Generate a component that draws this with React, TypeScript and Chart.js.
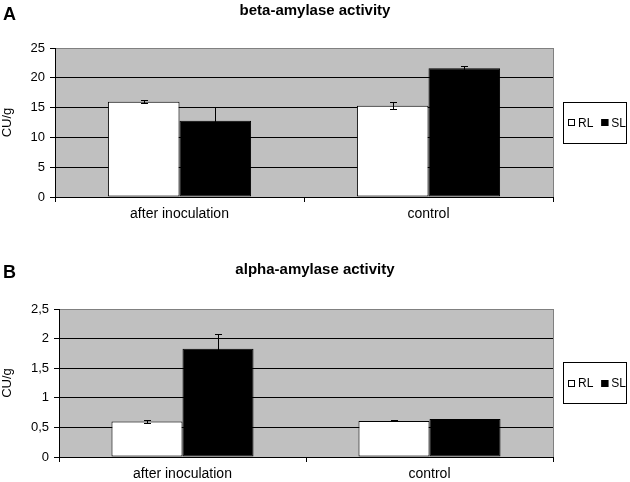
import React, { useEffect, useRef } from 'react';
import { Chart, registerables } from 'chart.js';

Chart.register(...registerables);

const FONT = '"Liberation Sans", Arial, Helvetica, sans-serif';

// ---- data ----
const categories = ['after inoculation', 'control'];
const seriesNames = ['RL', 'SL'];

const betaRL = [16.0, 15.3];
const betaRLErr = [0.2, 0.6];
const betaSL = [12.8, 21.6];
const betaSLErr = [2.3, 0.4];
const betaTickValues = [0, 5, 10, 15, 20, 25];
const betaTickLabels = ['0', '5', '10', '15', '20', '25'];

const alphaRL = [0.6, 0.61];
const alphaRLErr = [0.03, 0.01];
const alphaSL = [1.83, 0.64];
const alphaSLErr = [0.25, 0];
const alphaTickValues = [0, 0.5, 1, 1.5, 2, 2.5];
const alphaTickLabels = ['0', '0,5', '1', '1,5', '2', '2,5'];

type PanelProps = {
  letter: string;
  title: string;
  rl: number[];
  rlErr: number[];
  sl: number[];
  slErr: number[];
  tickValues: number[];
  tickLabels: string[];
  top: number;
  yWidth: number;
  xHeight: number;
  letterBaseline: number;
  titleBaseline: number;
};

function Panel(p: PanelProps) {
  const ref = useRef<HTMLCanvasElement | null>(null);
  useEffect(() => {
    const canvas = ref.current;
    if (!canvas) return;
    const errs = [p.rlErr, p.slErr];
    const yMax = p.tickValues[p.tickValues.length - 1];
    const decor = {
      id: 'decor',
      beforeDraw(chart: any) {
        const { ctx, chartArea: a } = chart;
        ctx.save();
        ctx.fillStyle = '#c0c0c0';
        ctx.fillRect(a.left, a.top, a.right - a.left, a.bottom - a.top);
        ctx.restore();
      },
      afterDatasetsDraw(chart: any) {
        const { ctx } = chart;
        const ys = chart.scales.y;
        ctx.save();
        ctx.strokeStyle = '#000';
        ctx.lineWidth = 1;
        chart.data.datasets.forEach((ds: any, i: number) => {
          const meta = chart.getDatasetMeta(i);
          meta.data.forEach((bar: any, j: number) => {
            const v = ds.data[j];
            const e = errs[i][j];
            if (!e) return;
            const x = Math.round(bar.x) + 0.5;
            const yT = Math.round(ys.getPixelForValue(v + e)) + 0.5;
            const yB = Math.round(ys.getPixelForValue(v - e)) + 0.5;
            ctx.beginPath();
            ctx.moveTo(x, yT);
            ctx.lineTo(x, yB);
            ctx.moveTo(x - 3.5, yT);
            ctx.lineTo(x + 3.5, yT);
            ctx.moveTo(x - 3.5, yB);
            ctx.lineTo(x + 3.5, yB);
            ctx.stroke();
          });
        });
        ctx.restore();
      },
      afterDraw(chart: any) {
        const { ctx, chartArea: a } = chart;
        ctx.save();
        // right border of plot area
        ctx.strokeStyle = '#808080';
        ctx.lineWidth = 1;
        ctx.beginPath();
        ctx.moveTo(Math.round(a.right) + 0.5, a.top);
        ctx.lineTo(Math.round(a.right) + 0.5, a.bottom);
        ctx.stroke();
        // panel letter
        ctx.fillStyle = '#000';
        ctx.font = 'bold 18px ' + FONT;
        ctx.textAlign = 'left';
        ctx.textBaseline = 'alphabetic';
        ctx.fillText(p.letter, 3, p.letterBaseline);
        // title
        ctx.font = 'bold 15px ' + FONT;
        ctx.textAlign = 'center';
        ctx.fillText(p.title, chart.width / 2, p.titleBaseline);
        // legend
        const bw = 64, bh = 42;
        const bx = Math.round(a.right) + 10;
        const cy = (a.top + a.bottom) / 2;
        const by = Math.round(cy - bh / 2);
        ctx.fillStyle = '#fff';
        ctx.fillRect(bx, by, bw, bh);
        ctx.strokeStyle = '#000';
        ctx.strokeRect(bx + 0.5, by + 0.5, bw - 1, bh - 1);
        ctx.font = '12px ' + FONT;
        ctx.textAlign = 'left';
        ctx.textBaseline = 'middle';
        let x = bx + 5;
        chart.data.datasets.forEach((ds: any) => {
          const sy = Math.round(cy - 3.5);
          ctx.fillStyle = ds.backgroundColor;
          ctx.fillRect(x, sy, 7, 7);
          ctx.strokeStyle = '#000';
          ctx.strokeRect(x + 0.5, sy + 0.5, 6, 6);
          x += 10;
          ctx.fillStyle = '#000';
          ctx.fillText(ds.label, x, cy + 1);
          x += ctx.measureText(ds.label).width + 8;
        });
        ctx.restore();
      },
    };

    const chart = new Chart(canvas, {
      type: 'bar',
      data: {
        labels: categories,
        datasets: [
          {
            label: seriesNames[0],
            data: p.rl,
            backgroundColor: '#ffffff',
            borderColor: '#000000',
            borderWidth: 1,
            borderSkipped: false,
          },
          {
            label: seriesNames[1],
            data: p.sl,
            backgroundColor: '#000000',
            borderColor: '#000000',
            borderWidth: 1,
            borderSkipped: false,
          },
        ],
      },
      options: {
        animation: false,
        responsive: false,
        devicePixelRatio: 1,
        layout: { padding: { left: 0, right: 77, top: p.top, bottom: 0 } },
        datasets: { bar: { categoryPercentage: 0.575, barPercentage: 1 } },
        plugins: {
          legend: { display: false },
          title: { display: false },
          tooltip: { enabled: false },
        },
        scales: {
          x: {
            grid: {
              offset: true,
              drawOnChartArea: false,
              drawTicks: true,
              tickLength: 5,
              tickColor: '#000',
            },
            border: { display: true, color: '#000', width: 1 },
            ticks: { color: '#000', font: { family: FONT, size: 14 }, padding: 4, maxRotation: 0 },
            afterFit: (s: any) => {
              s.height = p.xHeight;
            },
          },
          y: {
            min: 0,
            max: yMax,
            afterBuildTicks: (s: any) => {
              s.ticks = p.tickValues.map((v) => ({ value: v }));
            },
            grid: {
              color: (c: any) => (c.tick && c.tick.value === yMax ? '#808080' : '#000'),
              tickColor: '#000',
              drawTicks: true,
              tickLength: 5,
              lineWidth: 1,
            },
            border: { display: true, color: '#000', width: 1 },
            ticks: {
              color: '#000',
              font: { family: FONT, size: 13 },
              padding: 5,
              callback: (v: any) => {
                const idx = p.tickValues.indexOf(Number(v));
                return idx >= 0 ? p.tickLabels[idx] : '';
              },
            },
            title: {
              display: true,
              text: 'CU/g',
              color: '#000',
              font: { family: FONT, size: 13 },
              padding: 0,
            },
            afterFit: (s: any) => {
              s.width = p.yWidth;
            },
          },
        },
      },
      plugins: [decor],
    } as any);
    return () => chart.destroy();
  }, []);
  return <canvas ref={ref} width={630} height={241} style={{ display: 'block', width: 630, height: 241 }} />;
}

export default function App() {
  return (
    <div style={{ position: 'absolute', left: 0, top: 0, width: 630, height: 482, background: '#fff' }}>
      <Panel
        letter="A"
        title="beta-amylase activity"
        rl={betaRL}
        rlErr={betaRLErr}
        sl={betaSL}
        slErr={betaSLErr}
        tickValues={betaTickValues}
        tickLabels={betaTickLabels}
        top={48}
        yWidth={55}
        xHeight={44}
        letterBaseline={20}
        titleBaseline={15}
      />
      <Panel
        letter="B"
        title="alpha-amylase activity"
        rl={alphaRL}
        rlErr={alphaRLErr}
        sl={alphaSL}
        slErr={alphaSLErr}
        tickValues={alphaTickValues}
        tickLabels={alphaTickLabels}
        top={68}
        yWidth={59}
        xHeight={25}
        letterBaseline={37}
        titleBaseline={33}
      />
    </div>
  );
}
